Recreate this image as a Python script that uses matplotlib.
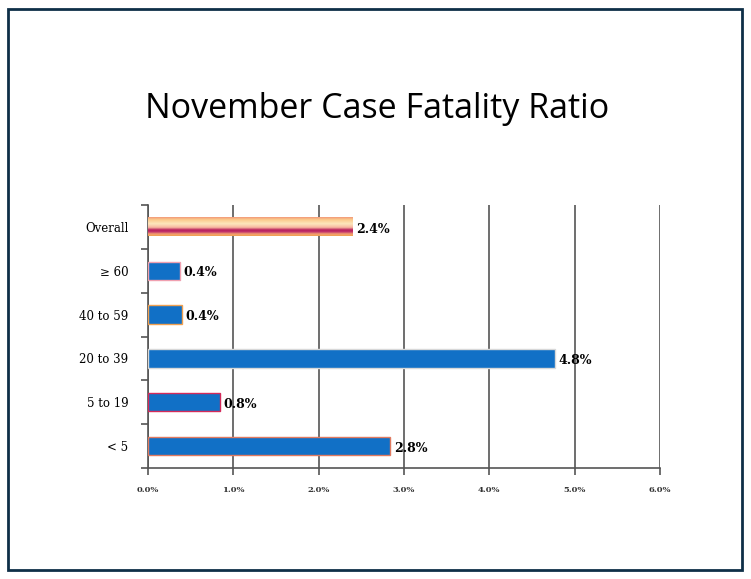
import matplotlib
matplotlib.use("Agg")
import matplotlib.pyplot as plt
import numpy as np
from matplotlib.colors import LinearSegmentedColormap
from matplotlib.patches import Rectangle

# data, bottom to top
groups = ["< 5", "5 to 19", "20 to 39", "40 to 59", "\u2265 60", "Overall"]
cfr = [2.84, 0.84, 4.77, 0.40, 0.375, 2.40]
labels = ["2.8%", "0.8%", "4.8%", "0.4%", "0.4%", "2.4%"]
xticks = [0, 1, 2, 3, 4, 5, 6]
xtick_labels = ["0.0%", "1.0%", "2.0%", "3.0%", "4.0%", "5.0%", "6.0%"]

BLUE = "#1170c6"
edges = ["#e07a60", "#d42a5a", "#d8d8d8", "#f0a050", "#f0a0b0", "none"]

fig = plt.figure(figsize=(7.51, 5.79), dpi=100)
fig.patches.append(Rectangle((8 / 751, 9 / 579), 734 / 751, 561 / 579,
                             transform=fig.transFigure, fill=False,
                             edgecolor="#0e2f47", lw=2.0))

fig.text(0.502, 0.812, "November Case Fatality Ratio", ha="center", va="center",
         fontsize=24.5, family="Open Sans", color="black")

ax = fig.add_axes([148 / 751, 1 - 468 / 579, 512 / 751, 263 / 579])
y = np.arange(len(groups))
h = 0.42
bars = ax.barh(y, cfr, height=h, color=BLUE, zorder=3)
for b, ec in zip(bars, edges):
    b.set_edgecolor(ec)
    b.set_linewidth(1.0)

# gradient fill for the overall bar (top -> bottom)
ov = bars[-1]
ov.set_facecolor("none")
grad = LinearSegmentedColormap.from_list("ov", [
    (0.0, "#f29a7a"), (0.12, "#fbc88a"), (0.35, "#fde6bc"),
    (0.55, "#f7b6a0"), (0.68, "#b81f5c"), (0.78, "#c0306a"),
    (0.9, "#f3a070"), (1.0, "#f0a050")])
ax.imshow(np.linspace(0, 1, 64).reshape(-1, 1), cmap=grad, aspect="auto",
          extent=(0, cfr[-1], y[-1] - h / 2, y[-1] + h / 2), zorder=3)

for yi, v, t in zip(y, cfr, labels):
    ax.text(v + 0.04, yi - 0.05, t, va="center", ha="left", fontsize=9,
            fontweight="bold", family="DejaVu Serif", zorder=4)

ax.set_xlim(0, 6)
ax.set_ylim(-0.5, len(groups) - 0.5)
ax.set_xticks(xticks)
ax.set_xticklabels(xtick_labels, fontsize=6, family="DejaVu Serif",
                   fontweight="bold", color="#333")
ax.set_yticks(y)
ax.set_yticklabels(groups, fontsize=8.5, family="DejaVu Serif")
ax.set_yticks(np.arange(-0.5, len(groups)), minor=True)
ax.tick_params(axis="y", which="major", length=0, pad=14)
ax.tick_params(axis="y", which="minor", length=5, color="#555", width=1.2)
ax.tick_params(axis="x", length=5, color="#555", width=1.2, pad=8)
ax.grid(axis="x", color="#555", lw=1.2, zorder=1)
for s in ("top", "right"):
    ax.spines[s].set_visible(False)
for s in ("left", "bottom"):
    ax.spines[s].set_color("#555")
    ax.spines[s].set_linewidth(1.2)

fig.savefig("out.png", dpi=100)
